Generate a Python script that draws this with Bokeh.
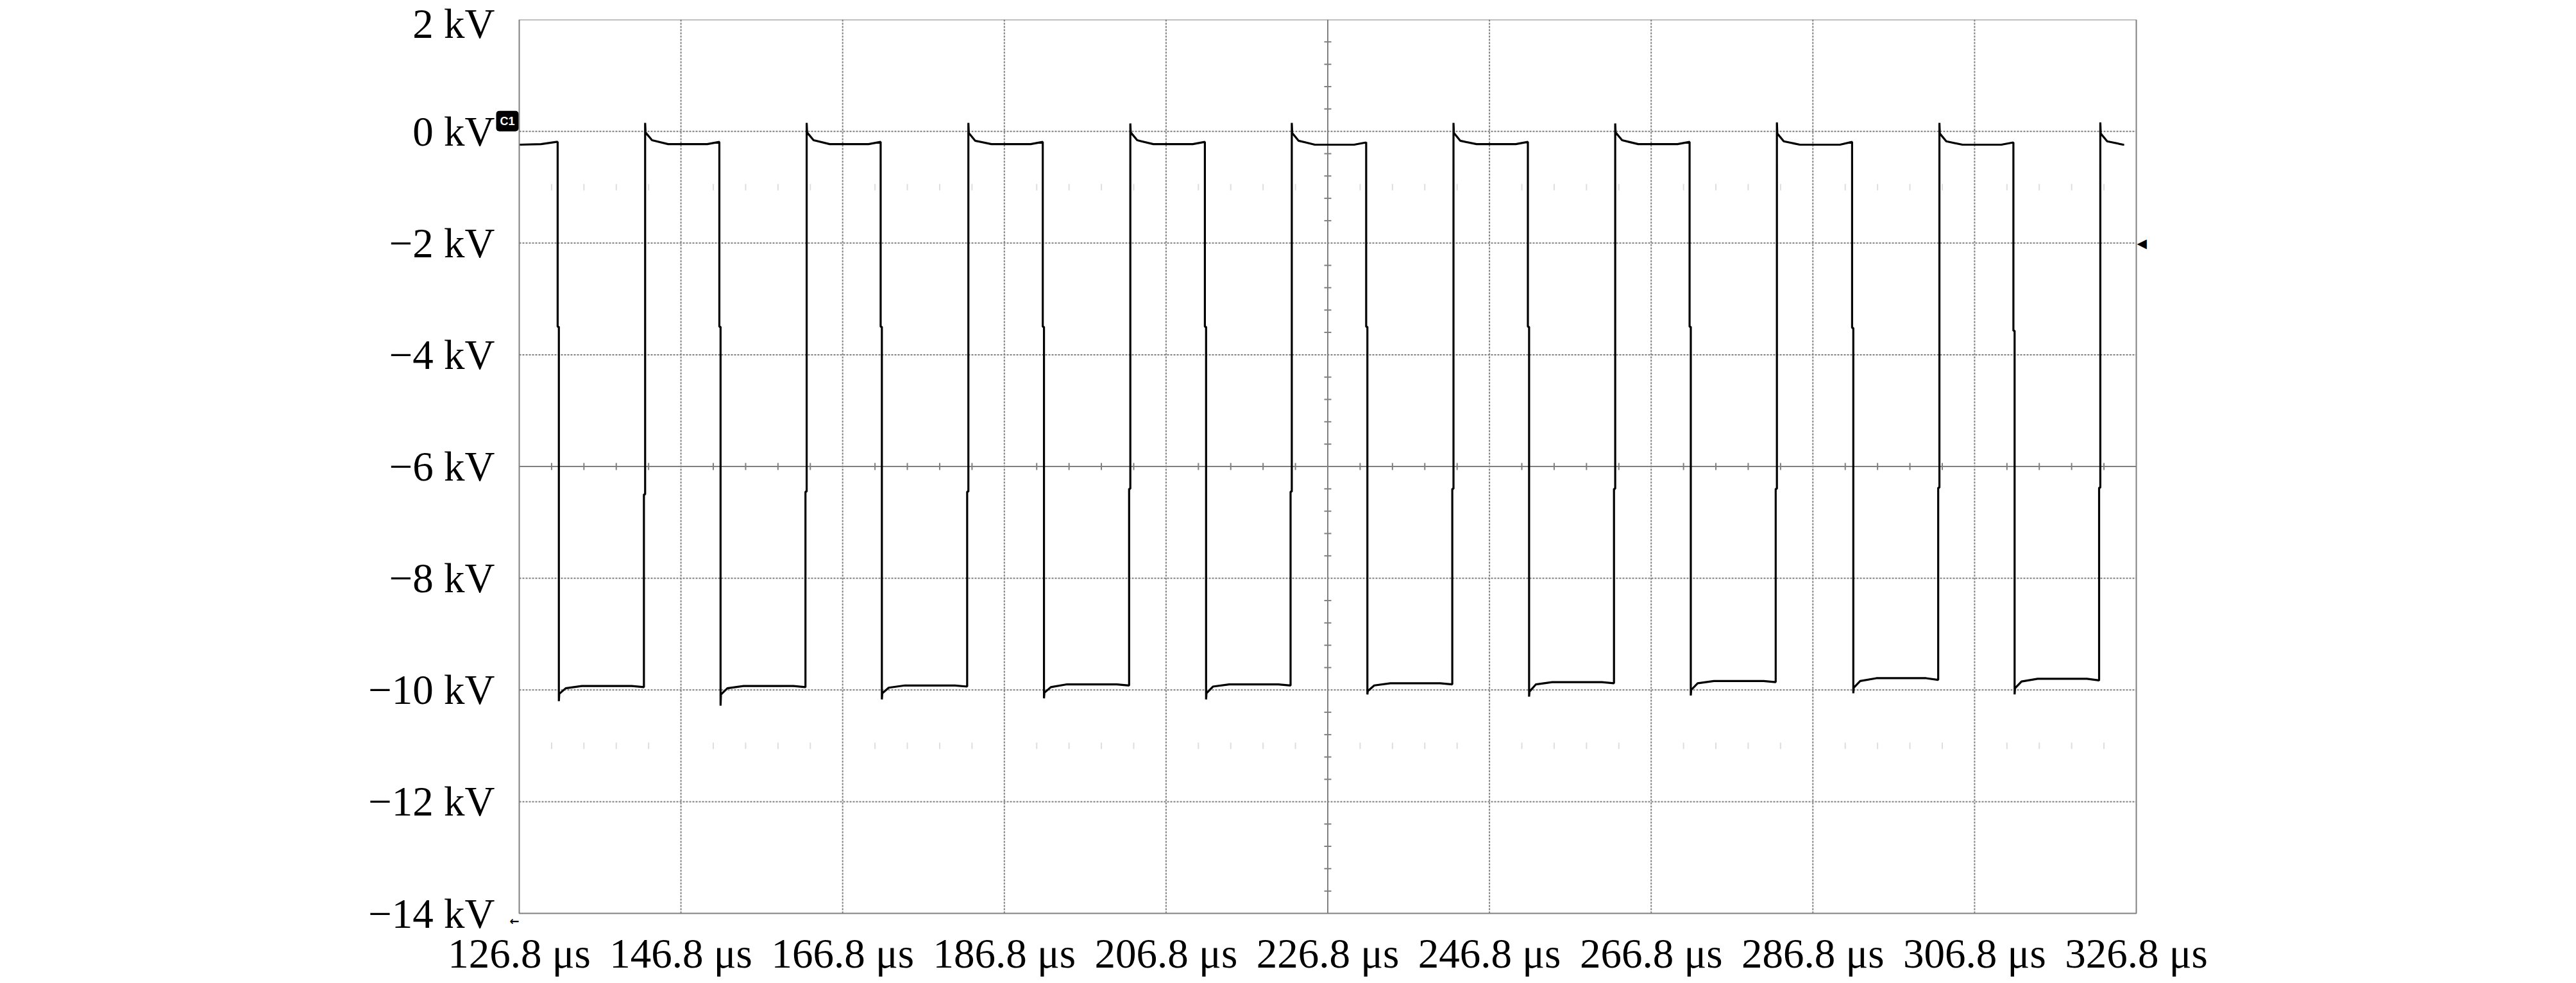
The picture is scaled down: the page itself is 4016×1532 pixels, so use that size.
from bokeh.plotting import figure
from bokeh.models import Range1d, FixedTicker, Label, CustomJSTickFormatter, BoxAnnotation
from bokeh.embed import file_html
from bokeh.resources import INLINE

# ---- axis data ----
x_ticks = [126.8, 146.8, 166.8, 186.8, 206.8, 226.8, 246.8, 266.8, 286.8, 306.8, 326.8]
x_tick_labels = ["126.8 μs", "146.8 μs", "166.8 μs", "186.8 μs", "206.8 μs", "226.8 μs",
                 "246.8 μs", "266.8 μs", "286.8 μs", "306.8 μs", "326.8 μs"]
y_ticks = [2, 0, -2, -4, -6, -8, -10, -12, -14]
y_tick_labels = ["2 kV", "0 kV", "\u22122 kV", "\u22124 kV", "\u22126 kV", "\u22128 kV",
                 "\u221210 kV", "\u221212 kV", "\u221214 kV"]
x_center = 226.8          # µs, centre graticule line
y_center = -6.0           # kV, centre graticule line
trigger_level = -2.0      # kV, trigger marker at right edge
x_minor = [130.8, 134.8, 138.8, 142.8, 150.8, 154.8, 158.8, 162.8, 170.8, 174.8, 178.8, 182.8,
           190.8, 194.8, 198.8, 202.8, 210.8, 214.8, 218.8, 222.8, 230.8, 234.8, 238.8, 242.8,
           250.8, 254.8, 258.8, 262.8, 270.8, 274.8, 278.8, 282.8, 290.8, 294.8, 298.8, 302.8,
           310.8, 314.8, 318.8, 322.8]
y_minor = [1.6, 1.2, 0.8, 0.4, -0.4, -0.8, -1.2, -1.6, -2.4, -2.8, -3.2, -3.6, -4.4, -4.8, -5.2,
           -5.6, -6.4, -6.8, -7.2, -7.6, -8.4, -8.8, -9.2, -9.6, -10.4, -10.8, -11.2, -11.6,
           -12.4, -12.8, -13.2, -13.6]
faint_rows = [-1.0, -11.0]

# ---- waveform data ----
fall_t = [131.55, 151.55, 171.5, 191.55, 211.6, 231.55, 251.55, 271.55, 291.65, 311.6]
rise_t = [142.22, 162.2, 182.2, 202.23, 222.2, 242.2, 262.2, 282.2, 302.3, 322.2]
edge_step = [0.15, 0.15, 0.15, 0.15, 0.15, 0.15, 0.15, 0.15, 0.15, 0.15]
fall_break = [-3.5, -3.5, -3.5, -3.5, -3.5, -3.5, -3.5, -3.5, -3.52, -3.57]
rise_break = [-6.5, -6.45, -6.45, -6.4, -6.45, -6.4, -6.4, -6.4, -6.38, -6.38]
undershoot = [-10.2, -10.28, -10.17, -10.15, -10.17, -10.08, -10.12, -10.1, -10.06, -10.08]
low_start = [-10.07, -10.08, -10.06, -10.05, -10.06, -10.02, -10.03, -10.0, -9.96, -9.97]
low_knee = [-9.97, -9.97, -9.96, -9.95, -9.94, -9.92, -9.9, -9.88, -9.84, -9.85]
low_mid = [-9.93, -9.93, -9.92, -9.9, -9.9, -9.88, -9.86, -9.84, -9.79, -9.8]
low_end = [-9.95, -9.95, -9.94, -9.92, -9.92, -9.9, -9.88, -9.86, -9.82, -9.83]
overshoot = [0.15, 0.15, 0.15, 0.14, 0.15, 0.15, 0.14, 0.16, 0.15, 0.16]
high_start = [-0.02, -0.02, -0.03, -0.02, -0.03, -0.03, -0.02, -0.04, -0.04, -0.04]
high_knee = [-0.16, -0.16, -0.17, -0.16, -0.17, -0.17, -0.16, -0.18, -0.18, -0.18]
high_mid = [-0.23, -0.23, -0.23, -0.23, -0.24, -0.23, -0.23, -0.24, -0.24, -0.24]
high_end = [-0.19, -0.19, -0.19, -0.19, -0.2, -0.19, -0.19, -0.19, -0.2, -0.2]
first_high = [-0.24, -0.23, -0.19]   # plateau before the first falling edge
first_high_t = [126.8, 129.5, 131.4]

# build the trace from the read values
t, v = list(first_high_t), list(first_high)
for i in range(len(fall_t)):
    tf, tr, dt = fall_t[i], rise_t[i], edge_step[i]
    t += [tf, tf, tf + dt, tf + dt, tf + dt + 0.05, tf + 1.0, tf + 3.0, tr - 1.5, tr]
    v += [high_end[i], fall_break[i], fall_break[i], undershoot[i], low_start[i],
          low_knee[i], low_mid[i], low_mid[i], low_end[i]]
    t_next = fall_t[i + 1] if i + 1 < len(fall_t) else x_ticks[-1]
    t += [tr, tr + dt, tr + dt, tr + dt + 0.05, tr + 1.0, tr + 3.0, min(t_next - 1.5, x_ticks[-1])]
    v += [rise_break[i], rise_break[i], overshoot[i], high_start[i], high_knee[i], high_mid[i],
          high_mid[i]]
    if i + 1 < len(fall_t):
        t += [t_next]
        v += [high_end[i]]

# ---- layout: graticule box plus a small margin inside the frame for markers ----
X0, X1, Y0, Y1 = x_ticks[0], x_ticks[-1], y_ticks[-1], y_ticks[0]
BOX_W, BOX_H = 2521, 1393                 # pixel size of the graticule
PAD_L, PAD_R, PAD_B = 38, 24, 20          # pixel room for markers outside the graticule
ux = (X1 - X0) / BOX_W
uy = (Y1 - Y0) / BOX_H
GRID = "#808080"

p = figure(width=4016, height=1530, output_backend="svg", toolbar_location=None,
           x_range=Range1d(X0 - PAD_L * ux, X1 + PAD_R * ux),
           y_range=Range1d(Y0 - PAD_B * uy, Y1),
           min_border_left=809 - PAD_L, min_border_right=4016 - 3330 - PAD_R,
           min_border_top=30, min_border_bottom=1530 - 1423 - PAD_B)
p.background_fill_color = "white"
p.border_fill_color = "white"
p.outline_line_color = None
p.xgrid.visible = False
p.ygrid.visible = False

FMT = """
const i = tv.findIndex(q => Math.abs(q - tick) < 1e-6); return i >= 0 ? tl[i] : "";"""
p.xaxis.ticker = FixedTicker(ticks=x_ticks)
p.yaxis.ticker = FixedTicker(ticks=y_ticks)
p.xaxis.formatter = CustomJSTickFormatter(args=dict(tv=x_ticks, tl=x_tick_labels), code=FMT)
p.yaxis.formatter = CustomJSTickFormatter(args=dict(tv=y_ticks, tl=y_tick_labels), code=FMT)
for ax in (p.xaxis[0], p.yaxis[0]):
    ax.axis_line_color = None
    ax.major_tick_line_color = None
    ax.minor_tick_line_color = None
    ax.major_tick_out = 0
    ax.major_tick_in = 0
    ax.minor_tick_out = 0
    ax.major_label_text_font = "Liberation Serif"
    ax.major_label_text_font_size = "65px"
    ax.major_label_text_color = "black"
p.yaxis.major_label_standoff = 0
p.xaxis.major_label_standoff = 6

# dotted graticule
gx = [x for x in x_ticks[1:-1] if x != x_center]
gy = [y for y in y_ticks[1:-1] if y != y_center]
p.segment(gx, [Y0] * len(gx), gx, [Y1] * len(gx), line_color=GRID, line_width=2, line_dash="3 2")
p.segment([X0] * len(gy), gy, [X1] * len(gy), gy, line_color=GRID, line_width=2, line_dash="3 2")
# centre lines with minor divisions
p.segment([x_center, X0], [Y0, y_center], [x_center, X1], [Y1, y_center],
          line_color="#808080", line_width=2)
p.scatter(x_minor, [y_center] * len(x_minor), marker="dash", size=11, angle=1.5708,
          line_color="#808080", line_width=2)
p.scatter([x_center] * len(y_minor), y_minor, marker="dash", size=11,
          line_color="#808080", line_width=2)
for r in faint_rows:
    p.scatter(x_minor, [r] * len(x_minor), marker="dash", size=10, angle=1.5708,
              line_color="#dedede", line_width=2)
# graticule border
p.add_layout(BoxAnnotation(left=X0, right=X1, bottom=Y0, top=Y1, fill_alpha=0,
                           line_color="#808080", line_width=2, line_alpha=1))

# waveform
p.line(t, v, line_color="black", line_width=3.2)

# channel marker, trigger marker and arrow
p.add_layout(Label(x=X0, y=0, x_offset=-1, text="C1", text_color="white",
                   text_font="Liberation Sans", text_font_style="bold", text_font_size="18px",
                   text_align="right", text_baseline="bottom",
                   background_fill_color="black", border_radius=5, padding=6))
p.add_layout(Label(x=X1, y=trigger_level, x_offset=1, text="\u25c0", text_color="black",
                   text_font="DejaVu Sans", text_font_size="20px",
                   text_align="left", text_baseline="middle"))
p.add_layout(Label(x=X0, y=Y0, x_offset=-15, y_offset=-12, text="\u2190",
                   text_color="black", text_font="DejaVu Sans", text_font_style="bold",
                   text_font_size="18px", text_align="left", text_baseline="middle"))

open("out.html", "w").write(file_html(p, INLINE))
